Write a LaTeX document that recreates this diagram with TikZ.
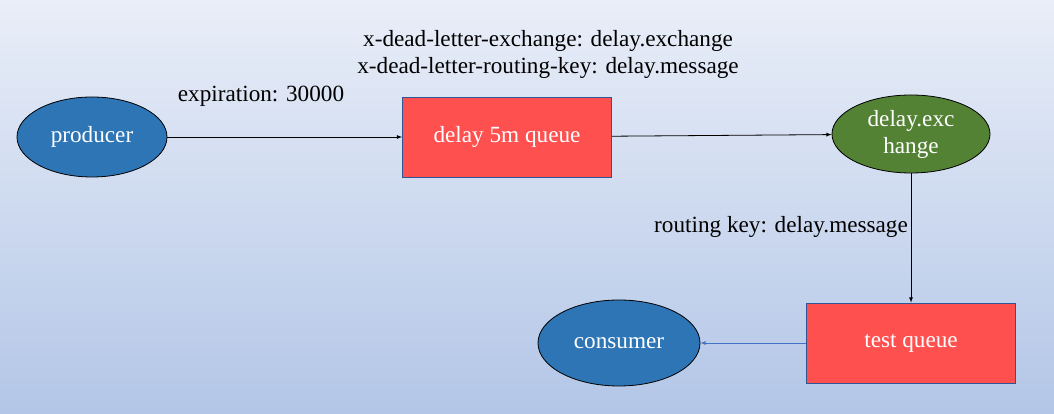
\documentclass[tikz,border=0pt]{standalone}
\usepackage{fontspec}
\setmainfont{Liberation Serif}
\usetikzlibrary{shapes.geometric}
\definecolor{bgtop}{HTML}{E9EEF8}
\definecolor{bgbot}{HTML}{B3C6E7}
\definecolor{appblue}{HTML}{2E75B6}
\definecolor{queuered}{HTML}{FF5050}
\definecolor{queueedge}{HTML}{2F5597}
\definecolor{exgreen}{HTML}{548235}
\definecolor{linkblue}{HTML}{4472C4}

\begin{document}
\begin{tikzpicture}[x=1pt,y=1pt,>=latex,line width=0.8pt,
  every node/.style={font=\fontsize{23.2}{27}\selectfont},
  app node/.style={ellipse,draw=black,fill=appblue,text=white,inner sep=0pt,
    minimum width=150pt,minimum height=80pt},
  queue node/.style={rectangle,draw=queueedge,fill=queuered,text=white,
    minimum width=209pt,minimum height=80pt},
  exchange node/.style={ellipse,draw=black,fill=exgreen,text=white,inner sep=0pt,
    align=center,minimum width=158pt,minimum height=78pt}]

  % background
  \shade[top color=bgtop,bottom color=bgbot] (0,0) rectangle (1054,414);

  \node[app node] (producer) at (92,277) {producer};
  \node[queue node] (delayq) at (507,277) {delay 5m queue};
  \node[exchange node] (delayx) at (911,280) {delay.exc\\hange};
  \node[queue node] (testq) at (911,71) {test queue};
  \node[app node,minimum width=162pt,minimum height=86pt] (consumer) at (619,71) {consumer};

  \node (expiration) at (261,318) {expiration: 30000};
  \node (dlx) at (548,373) {x-dead-letter-exchange: delay.exchange};
  \node (dlk) at (548,346) {x-dead-letter-routing-key: delay.message};
  \node (routing) at (781,187) {routing key: delay.message};

  \path[->]
  (producer) edge [draw=black] (delayq)
  (delayq)   edge [draw=black] (delayx)
  (delayx)   edge [draw=black] (testq)
  (testq)    edge [draw=linkblue] (consumer);
\end{tikzpicture}
\end{document}
